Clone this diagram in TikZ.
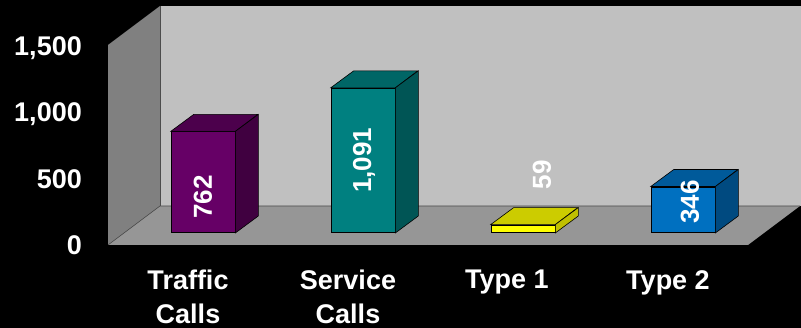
\documentclass[tikz,border=0pt]{standalone}
\usepackage{fontspec}
\setmainfont{Liberation Sans}
\definecolor{backwall}{RGB}{192, 192, 192}
\definecolor{sidewall}{RGB}{128, 128, 128}
\definecolor{floorgray}{RGB}{150, 150, 150}
\definecolor{plumfront}{RGB}{102, 0, 102}
\definecolor{plumtop}{RGB}{76, 0, 76}
\definecolor{plumside}{RGB}{64, 0, 64}
\definecolor{tealfront}{RGB}{0, 128, 128}
\definecolor{tealtop}{RGB}{0, 102, 102}
\definecolor{tealside}{RGB}{0, 85, 85}
\definecolor{yellowfront}{RGB}{255, 255, 0}
\definecolor{yellowtop}{RGB}{204, 204, 0}
\definecolor{yellowside}{RGB}{192, 192, 0}
\definecolor{bluefront}{RGB}{0, 112, 192}
\definecolor{bluetop}{RGB}{0, 90, 154}
\definecolor{blueside}{RGB}{0, 74, 128}
\usetikzlibrary{positioning,calc}

\begin{document}
\begin{tikzpicture}[x=1pt, y=1pt,
    lbl/.style={text=white, inner sep=0pt, font=\fontsize{27}{34}\selectfont\bfseries},
    vallbl/.style={text=white, inner sep=0pt, rotate=90, font=\fontsize{26}{30}\selectfont\bfseries},
    barface/.style={draw=black, line width=0.6pt, minimum width=64pt, inner sep=0pt, anchor=south},
    edge/.style={draw=black, line width=0.6pt}]
    \fill[black] (0,0) rectangle (801,328);
    \useasboundingbox (0,0) rectangle (801,328);

    \fill[sidewall] (108,83) -- (160,122) -- (160,322) -- (108,283) -- cycle;
    \fill[backwall] (160,122) rectangle (801,322);
    \fill[floorgray] (108,83) -- (748,83) -- (800,122) -- (160,122) -- cycle;
    \draw[black!70, line width=0.6pt] (108,83) -- (160,122) -- (800,122);
    \draw[black!70, line width=0.6pt] (160,122) -- (160,322);

    \draw[black, line width=0.8pt] (107,83) -- (107,282);
    \draw[black, line width=0.8pt] (107,83) -- (748,83);
    \foreach \k in {0,...,4}
        \draw[black, line width=0.8pt] (107+160*\k,83) -- ++(0,-3);
    \foreach \v/\t in {0/0, 500/500, 1000/{1,000}, 1500/{1,500}} {
        \draw[black, line width=0.8pt] (107,83+\v*0.1325) -- ++(-3,0);
        \node[lbl, anchor=base east] (ylab\v) at (82,73.5+\v*0.1325) {\t};
    }

    \foreach \name/\val/\fr/\tp/\sd [count=\i from 0] in {
        traffic/762/plumfront/plumtop/plumside,
        service/1091/tealfront/tealtop/tealside,
        typeone/59/yellowfront/yellowtop/yellowside,
        typetwo/346/bluefront/bluetop/blueside} {
        \node[barface, fill=\fr, minimum height=\val*0.1325] (\name) at (203+160*\i,95) {};
        \filldraw[fill=\tp, edge] (\name.north west) -- ++(23,17) -- ++(64,0) -- (\name.north east) -- cycle;
        \filldraw[fill=\sd, edge] (\name.north east) -- ++(23,17) -- ($(\name.south east)+(23,17)$) -- (\name.south east) -- cycle;
    }

    \node[vallbl] (trafficval) at ($(traffic.south)+(0,36)$) {762};
    \node[vallbl] (serviceval) at ($(service.center)+(1,0)$) {1,091};
    \node[vallbl] (typeoneval) at ($(typeone.south)+(19,58)$) {59};
    \node[vallbl] (typetwoval) at ($(typetwo.center)+(7,8)$) {346};

    \node[lbl, align=center, anchor=north] (trafficcat) at (188,58) {Traffic\\Calls};
    \node[lbl, align=center, anchor=north] (servicecat) at (348,58) {Service\\Calls};
    \node[lbl, align=center, anchor=north] (typeonecat) at (507,58) {Type 1};
    \node[lbl, align=center, anchor=north] (typetwocat) at (668,58) {Type 2};
\end{tikzpicture}
\end{document}
